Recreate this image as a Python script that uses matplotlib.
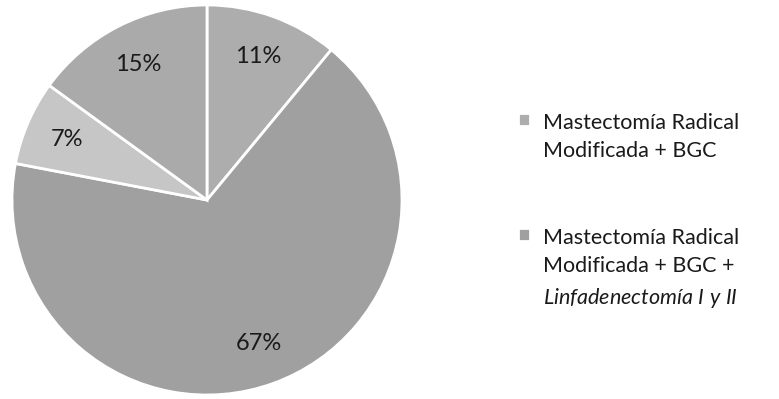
"""Pie chart: distribución de procedimientos quirúrgicos."""
import matplotlib
matplotlib.use("Agg")
import matplotlib.pyplot as plt

# data (clockwise from 12 o'clock)
values = [11, 67, 7, 15]
pct_labels = ["11%", "67%", "7%", "15%"]
slice_colors = ["#adadad", "#a0a0a0", "#c6c6c6", "#aaaaaa"]
legend_labels = [
    "Mastectomía Radical\nModificada + BGC",
    "Mastectomía Radical\nModificada + BGC +\n$\\it{Linfadenectomía\\ I\\ y\\ II}$",
]

plt.rcParams["font.family"] = ["Lato", "DejaVu Sans"]
plt.rcParams["mathtext.fontset"] = "custom"
plt.rcParams["mathtext.it"] = "Lato:italic"
plt.rcParams["mathtext.rm"] = "Lato"

fig = plt.figure(figsize=(7.79, 3.99), dpi=100)
ax = fig.add_axes([12 / 779, 4 / 399, 390 / 779, 390 / 399])

wedges, texts = ax.pie(values, labels=pct_labels, colors=slice_colors,
                       startangle=90, counterclock=False,
                       labeldistance=0.78,
                       wedgeprops=dict(edgecolor="white", linewidth=2),
                       textprops=dict(fontsize=17, color="#1a1a1a",
                                      ha="center", va="center"))
ax.set_xlim(-1.0, 1.0)
ax.set_ylim(-1.0, 1.0)

leg = fig.legend(wedges[:2], legend_labels, loc="upper left",
                 bbox_to_anchor=(518 / 779, 1 - 113 / 399),
                 frameon=False, fontsize=15.5, handlelength=0.55,
                 handleheight=0.55, handletextpad=0.6, labelspacing=3.1,
                 borderpad=0, borderaxespad=0)
for t in leg.get_texts():
    t.set_color("#1a1a1a")
    t.set_linespacing(1.52)
# put the marker next to the first line of each label
for col in leg._legend_handle_box.get_children():
    for row in col.get_children():
        row.align = "top"

fig.savefig("out.png", dpi=100)
